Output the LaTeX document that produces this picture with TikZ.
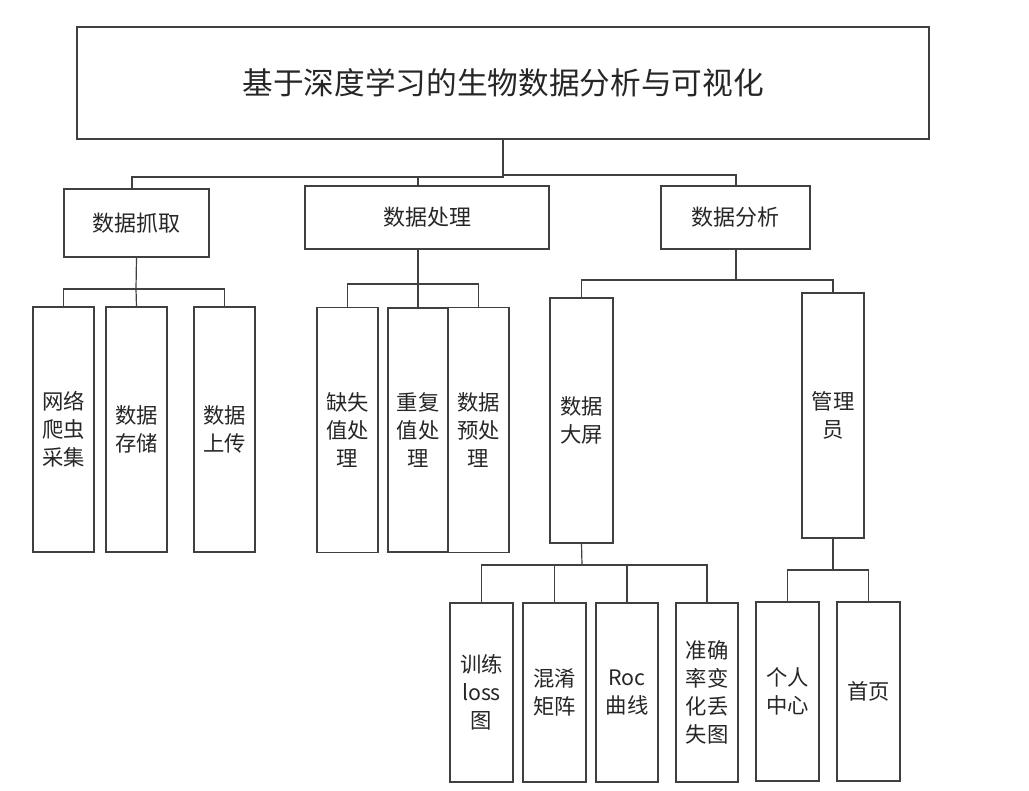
\documentclass[tikz,border=0pt]{standalone}
\usepackage{fontspec}
\setmainfont{Noto Sans CJK SC}

\begin{document}
\begin{tikzpicture}[x=0.75pt, y=-0.75pt, line width=0.9pt, draw=black!75,
  every node/.style = {shape=rectangle, draw=black!75, align=center, inner sep=0pt,
    text=black!85, font=\fontsize{16}{21}\selectfont},
  box/.style 2 args = {minimum width=#1*0.75pt, minimum height=#2*0.75pt},
  tall/.style = {box={61}{245}},
  short/.style = {box={63}{179}}]
  \useasboundingbox (0,0) rectangle (1029,791);

  % top
  \node [box={852}{112}, font=\fontsize{23}{28}\selectfont] (root) at (503,83)
    {基于深度学习的生物数据分析与可视化};
  \node [box={145}{68}, font=\fontsize{16.5}{21}\selectfont] (grab) at (136.5,223) {数据抓取};
  \node [box={244}{63}, font=\fontsize{16.5}{21}\selectfont] (proc) at (427,217.5) {数据处理};
  \node [box={149}{63}, font=\fontsize{16.5}{21}\selectfont] (ana) at (735.5,217.5) {数据分析};

  % second level
  \node [tall] (crawl) at (63.5,429.5) {网络\\爬虫\\采集};
  \node [tall] (store) at (136.5,429.5) {数据\\存储};
  \node [tall] (upload) at (224.5,429.5) {数据\\上传};
  \node [tall] (miss) at (347.5,430) {缺失\\值处\\理};
  \node [box={60}{244}] (dup) at (418,430) {重复\\值处\\理};
  \node [tall] (pre) at (478.5,430) {数据\\预处\\理};
  \node [box={63}{245}] (screen) at (581.5,420.5) {数据\\大屏};
  \node [box={62}{245}] (admin) at (833,415.5) {管理\\员};

  % third level
  \node [short] (loss) at (481.5,692.5) {训练\\loss\\图};
  \node [short] (conf) at (554.5,692.5) {混淆\\矩阵};
  \node [box={62}{179}] (roc) at (627,692.5) {Roc\\曲线};
  \node [box={62}{179}] (acc) at (707,692.5) {准确\\率变\\化丢\\失图};
  \node [short] (user) at (787.5,691.5) {个人\\中心};
  \node [short] (index) at (868.5,691.5) {首页};

  % bus points
  \coordinate (rl) at (503,177);
  \coordinate (rr) at (503,175);
  \coordinate (gb) at (136,289);
  \coordinate (pb) at (418,284);
  \coordinate (ab) at (736,280);
  \coordinate (sb) at (582,565);
  \coordinate (mb) at (833,570);

  % connectors
  \draw (root.south) -- (rl) -| (132,189);
  \draw (rl) -| (pb |- proc.north);
  \draw (rr) -| (ab |- ana.north);
  \draw (grab.south) -- (gb);
  \draw (crawl.north) |- (gb) -| (upload.north);
  \draw (gb) -- (store.north);
  \draw (pb |- proc.south) -- (dup.north);
  \draw (miss.north) |- (pb) -| (pre.north);
  \draw (ab |- ana.south) -- (ab);
  \draw (screen.north) |- (ab) -| (admin.north);
  \draw (screen.south) -- (sb);
  \draw (loss.north) |- (sb) -| (acc.north);
  \draw (conf.north) |- (sb) -| (roc.north);
  \draw (admin.south) -- (mb);
  \draw (user.north) |- (mb) -| (index.north);
\end{tikzpicture}
\end{document}
